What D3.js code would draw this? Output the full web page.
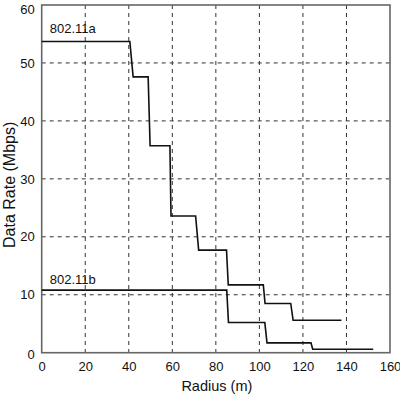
<!DOCTYPE html>
<html>
<head>
  <script src="https://d3js.org/d3.v7.min.js"></script>
  <style>
    body { margin: 0; background: #fff; }
    text { font-family: "Liberation Sans", Arial, Helvetica, sans-serif; fill: #111; }
    .tick text { font-size: 13px; }
    .grid line { stroke: #333; stroke-width: 1; stroke-dasharray: 4,4; }
    .frame { fill: none; stroke: #666; stroke-width: 1.6; }
    .line { fill: none; stroke: #111; stroke-width: 1.6; }
    .xtitle { font-size: 14.5px; }
    .ytitle { font-size: 16px; }
    .label { font-size: 13px; }
  </style>
</head>
<body>
  <svg id="chart"></svg>
  <script>
    var xTicks = [0, 20, 40, 60, 80, 100, 120, 140, 160];
    var yTicks = [0, 10, 20, 30, 40, 50, 60];

    // radius (m), rate (Mbps) along each staircase
    var rate11a = [
      [0, 53.7], [40.5, 53.7], [42, 47.6], [48.9, 47.6], [49.8, 35.7],
      [58.9, 35.7], [59.4, 23.6], [70.7, 23.6], [72.1, 17.7], [84.9, 17.7],
      [85.7, 11.7], [101.8, 11.7], [102.6, 8.5], [114.4, 8.5], [115.5, 5.6],
      [137.7, 5.6]
    ];
    var rate11b = [
      [0, 10.8], [85, 10.8], [85.8, 5.2], [102.5, 5.2], [103.5, 1.7],
      [123.7, 1.7], [124.5, 0.6], [152.3, 0.6]
    ];
    var seriesNames = ["802.11a", "802.11b"];
    var labelAt = [[3.7, 55.1], [3.7, 11.8]];

    var margin = { top: 5, right: 10, bottom: 43.3, left: 41.7 };
    var W = 400, H = 396;
    var width = W - margin.left - margin.right;
    var height = H - margin.top - margin.bottom;

    var root = d3.select("#chart").attr("width", W).attr("height", H);
    var svg = root.append("g")
      .attr("transform", "translate(" + margin.left + "," + margin.top + ")");

    var x = d3.scaleLinear().domain([0, 160]).range([0, width]);
    var y = d3.scaleLinear().domain([0, 60]).range([height, 0]);

    // dashed grid
    svg.append("g").attr("class", "grid")
      .selectAll("line").data(xTicks.slice(1, -1)).enter().append("line")
      .attr("x1", function(d) { return x(d); }).attr("x2", function(d) { return x(d); })
      .attr("y1", 0).attr("y2", height);
    svg.append("g").attr("class", "grid")
      .selectAll("line").data(yTicks.slice(1, -1)).enter().append("line")
      .attr("y1", function(d) { return y(d); }).attr("y2", function(d) { return y(d); })
      .attr("x1", 0).attr("x2", width);

    var xAxis = svg.append("g")
      .attr("transform", "translate(0," + height + ")")
      .call(d3.axisBottom(x).tickValues(xTicks).tickSize(0).tickPadding(9));
    var yAxis = svg.append("g")
      .call(d3.axisLeft(y).tickValues(yTicks).tickSize(0).tickPadding(7));
    xAxis.select(".domain").remove();
    yAxis.select(".domain").remove();
    svg.selectAll(".tick text").attr("fill", "#111");

    // top label pushed down so it stays inside the picture
    yAxis.selectAll(".tick text")
      .attr("dy", function(d) { return d === 60 ? "0.62em" : d === 0 ? "0.45em" : "0.32em"; });

    svg.append("rect").attr("class", "frame")
      .attr("x", 0).attr("y", 0).attr("width", width).attr("height", height);

    var line = d3.line()
      .x(function(d) { return x(d[0]); })
      .y(function(d) { return y(d[1]); });

    svg.selectAll(".line").data([rate11a, rate11b]).enter().append("path")
      .attr("class", "line")
      .attr("d", line);

    svg.selectAll(".label").data(seriesNames).enter().append("text")
      .attr("class", "label")
      .attr("x", function(d, i) { return x(labelAt[i][0]); })
      .attr("y", function(d, i) { return y(labelAt[i][1]); })
      .text(function(d) { return d; });

    svg.append("text").attr("class", "xtitle")
      .attr("x", width / 2 + 1).attr("y", height + 38.5)
      .attr("text-anchor", "middle")
      .text("Radius (m)");

    svg.append("text").attr("class", "ytitle")
      .attr("transform", "translate(" + (-27) + "," + (height / 2 + 6) + ") rotate(-90)")
      .attr("text-anchor", "middle")
      .text("Data Rate (Mbps)");
  </script>
</body>
</html>
